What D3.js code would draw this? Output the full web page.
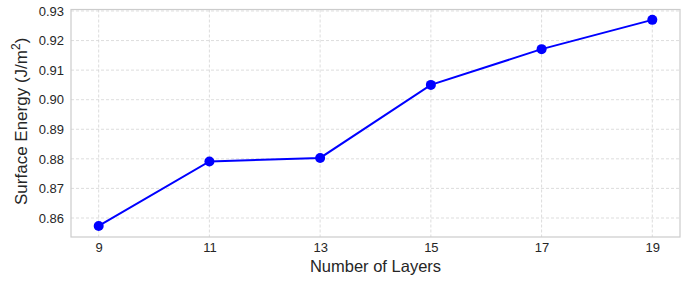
<!DOCTYPE html>
<html><head><meta charset="utf-8">
<script src="https://cdn.jsdelivr.net/npm/d3@7"></script>
<style>body{margin:0;background:#fff}svg{display:block}text{font-family:"Liberation Sans",Arial,sans-serif}</style>
</head><body>
<svg id="c" width="688" height="281"></svg>
<script>
const layers = [9, 11, 13, 15, 17, 19];
const energy = [0.8573, 0.8791, 0.8803, 0.9050, 0.9171, 0.9270];
const yTicks = [0.86, 0.87, 0.88, 0.89, 0.90, 0.91, 0.92, 0.93];
const xTicks = [9, 11, 13, 15, 17, 19];

const svg = d3.select("#c");
const L = 71, R = 680, T = 9.5, B = 237;
const x = d3.scaleLinear().domain([8.5, 19.5]).range([L, R]);
const y = d3.scaleLinear().domain([0.85357, 0.9305]).range([B, T]);

const g = svg.append("g");
g.selectAll(".gx").data(xTicks).join("line")
  .attr("x1", d => x(d)).attr("x2", d => x(d)).attr("y1", T).attr("y2", B)
  .attr("stroke", "#d4d4d4").attr("stroke-width", 0.8).attr("stroke-dasharray", "3,2");
g.selectAll(".gy").data(yTicks).join("line")
  .attr("x1", L).attr("x2", R).attr("y1", d => y(d)).attr("y2", d => y(d))
  .attr("stroke", "#d4d4d4").attr("stroke-width", 0.8).attr("stroke-dasharray", "3,2");

const xa = svg.append("g").attr("transform", `translate(0,${B})`)
  .call(d3.axisBottom(x).tickValues(xTicks).tickSize(0).tickPadding(6).tickFormat(d3.format("d")));
const ya = svg.append("g").attr("transform", `translate(${L},0)`)
  .call(d3.axisLeft(y).tickValues(yTicks).tickSize(0).tickPadding(7).tickFormat(d3.format(".2f")));
[xa, ya].forEach(a => {
  a.select(".domain").remove();
  a.attr("font-size", 13).attr("font-family", "'Liberation Sans', Arial, sans-serif");
  a.selectAll("text").attr("font-size", 13).attr("fill", "#262626");
});

svg.append("rect").attr("x", L).attr("y", T).attr("width", R - L).attr("height", B - T)
  .attr("fill", "none").attr("stroke", "#cccccc").attr("stroke-width", 1.2);

const line = d3.line().x((d, i) => x(layers[i])).y(d => y(d));
svg.append("path").datum(energy).attr("d", line)
  .attr("fill", "none").attr("stroke", "#0000ff").attr("stroke-width", 2);
svg.selectAll(".pt").data(energy).join("circle")
  .attr("cx", (d, i) => x(layers[i])).attr("cy", d => y(d)).attr("r", 5)
  .attr("fill", "#0000ff");

svg.append("text").attr("x", (L + R) / 2).attr("y", 272).attr("text-anchor", "middle")
  .attr("font-size", 16.5).attr("fill", "#262626").text("Number of Layers");
const yl = svg.append("text").attr("transform", `translate(27,205) rotate(-90)`)
  .attr("text-anchor", "start").attr("font-size", 17).attr("fill", "#262626");
yl.append("tspan").text("Surface Energy (J/m");
yl.append("tspan").attr("font-size", 12).attr("dy", -7).text("2");
yl.append("tspan").attr("dy", 7).text(")");
</script>
</body></html>
